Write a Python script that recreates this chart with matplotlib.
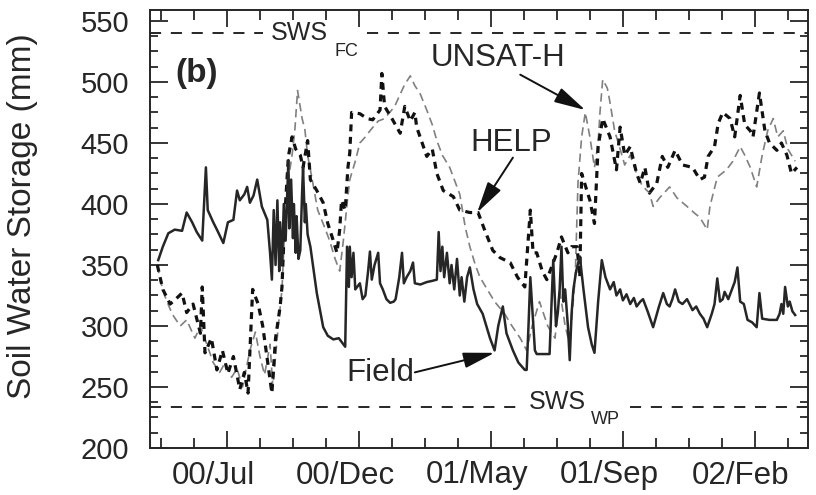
import matplotlib
matplotlib.use("Agg")
import matplotlib.pyplot as plt
from matplotlib.ticker import FixedLocator, MultipleLocator
from matplotlib.transforms import ScaledTranslation

plt.rcParams['font.family'] = ['Liberation Sans', 'DejaVu Sans']
plt.rcParams['lines.scale_dashes'] = False

# Soil water storage (mm) against day of record
field_day = [9, 14, 20, 27, 35, 40, 46, 51, 57, 61, 63, 69, 73, 80, 85, 91, 95, 98,
             103, 106, 109, 113, 117, 122, 128, 131, 133, 135, 137, 139, 141, 142,
             144, 146, 148, 151, 152, 154, 156, 157, 159, 160, 162, 164, 166, 167,
             169, 170, 172, 175, 182, 189, 194, 200, 206, 213, 215, 217, 218, 220,
             222, 224, 229, 232, 235, 238, 240, 242, 245, 249, 251, 254, 258, 262,
             266, 268, 272, 275, 277, 280, 284, 287, 289, 295, 302, 308, 313, 315,
             317, 319, 321, 324, 327, 329, 332, 335, 338, 340, 343, 346, 349, 353,
             357, 363, 367, 371, 376, 380, 385, 389, 396, 402, 409, 411, 413, 415,
             420, 422, 436, 440, 443, 445, 447, 449, 451, 453, 456, 458, 460, 462,
             465, 469, 473, 478, 482, 485, 489, 493, 497, 502, 506, 509, 513, 516,
             520, 524, 528, 531, 535, 538, 543, 549, 555, 560, 564, 567, 570, 573,
             577, 581, 586, 592, 596, 600, 604, 608, 613, 616, 619, 622, 625, 627,
             631, 635, 638, 641, 644, 648, 652, 657, 662, 665, 668, 676, 684, 687,
             689, 691, 693, 696, 698, 701, 704]
field_mm = [354, 365, 376, 379, 378, 393, 385, 377, 370, 430, 395, 385, 379, 368, 385,
            387, 411, 403, 408, 414, 401, 407, 420, 398, 387, 360, 338, 395, 350, 403,
            345, 385, 350, 400, 370, 436, 380, 420, 372, 400, 360, 390, 355, 362, 410,
            430, 385, 400, 375, 365, 327, 299, 292, 289, 290, 283, 365, 332, 365, 340,
            360, 330, 335, 322, 325, 345, 361, 338, 350, 360, 335, 330, 322, 319, 320,
            322, 340, 360, 335, 340, 345, 352, 335, 334, 336, 337, 338, 377, 345, 365,
            340, 360, 335, 350, 330, 355, 325, 340, 320, 340, 348, 330, 318, 310, 300,
            290, 280, 300, 316, 294, 280, 270, 264, 264, 300, 340, 280, 277, 277, 354,
            300, 311, 330, 365, 320, 330, 300, 272, 310, 330, 345, 357, 330, 299, 285,
            278, 320, 354, 340, 330, 336, 325, 330, 321, 326, 318, 323, 316, 320, 322,
            312, 299, 315, 327, 318, 316, 322, 330, 320, 318, 322, 313, 316, 310, 306,
            299, 310, 318, 339, 320, 322, 328, 322, 330, 336, 348, 320, 318, 305, 303,
            299, 327, 306, 305, 305, 310, 318, 310, 332, 316, 320, 312, 309]

help_day = [8, 11, 14, 22, 28, 35, 40, 47, 55, 57, 60, 67, 73, 79, 85, 91, 98, 103,
            107, 112, 118, 123, 131, 133, 137, 142, 144, 147, 151, 155, 159, 164, 167,
            172, 175, 182, 189, 194, 200, 204, 207, 209, 213, 216, 218, 220, 229, 237,
            243, 251, 253, 256, 264, 273, 278, 284, 289, 291, 297, 302, 308, 313, 320,
            331, 338, 349, 358, 365, 374, 382, 393, 401, 409, 415, 418, 422, 428, 433,
            439, 444, 449, 456, 460, 466, 469, 471, 480, 485, 489, 494, 502, 509, 513,
            518, 524, 531, 535, 540, 545, 553, 559, 565, 573, 581, 592, 600, 605, 609,
            616, 620, 625, 633, 638, 644, 649, 655, 658, 665, 671, 676, 684, 689, 695,
            700, 706]
help_mm = [350, 340, 330, 318, 322, 327, 311, 318, 294, 332, 278, 290, 264, 280, 261,
           275, 248, 262, 245, 330, 318, 300, 256, 245, 290, 316, 332, 389, 439, 455,
           445, 440, 430, 452, 420, 411, 401, 384, 370, 360, 379, 403, 395, 430, 442,
           475, 474, 470, 469, 477, 507, 480, 470, 458, 480, 468, 475, 463, 450, 439,
           445, 425, 411, 406, 395, 393, 393, 379, 362, 356, 352, 340, 332, 395, 360,
           360, 345, 338, 350, 360, 373, 360, 365, 365, 340, 425, 403, 384, 447, 470,
           455, 428, 463, 440, 447, 425, 417, 430, 409, 417, 439, 430, 444, 432, 430,
           420, 422, 439, 447, 466, 475, 470, 455, 489, 465, 460, 455, 491, 460, 450,
           444, 450, 440, 425, 430]

unsat_day = [8, 11, 16, 24, 33, 40, 49, 55, 62, 69, 76, 82, 89, 95, 101, 109, 115, 120,
             125, 131, 134, 140, 144, 147, 151, 155, 158, 161, 166, 169, 172, 177, 183,
             191, 196, 202, 207, 211, 215, 218, 224, 229, 235, 240, 249, 256, 267, 273,
             278, 284, 289, 295, 302, 308, 313, 319, 327, 333, 338, 344, 349, 355, 360,
             368, 376, 387, 395, 404, 411, 417, 425, 434, 442, 447, 453, 458, 464, 467,
             471, 475, 480, 485, 489, 491, 494, 499, 502, 507, 513, 518, 524, 531, 537,
             545, 549, 556, 567, 575, 586, 595, 600, 608, 611, 619, 624, 629, 636, 644,
             649, 655, 662, 668, 674, 680, 685, 691, 696, 704]
unsat_mm = [350, 338, 325, 310, 300, 305, 290, 300, 285, 270, 262, 270, 258, 265, 250,
            280, 295, 275, 260, 285, 250, 300, 330, 380, 420, 440, 460, 493, 470, 461,
            440, 420, 395, 380, 370, 355, 345, 370, 400, 420, 435, 450, 455, 460, 468,
            470, 480, 490, 498, 505, 497, 490, 477, 465, 452, 440, 430, 418, 408, 381,
            365, 350, 340, 330, 320, 310, 300, 290, 280, 300, 320, 300, 290, 330, 300,
            285, 340, 417, 455, 475, 455, 430, 450, 475, 502, 495, 483, 460, 445, 432,
            440, 425, 415, 409, 398, 405, 414, 405, 398, 392, 389, 379, 398, 422, 425,
            428, 435, 447, 440, 430, 414, 440, 460, 470, 455, 460, 445, 435]

sws_fc = 540
sws_wp = 234

tick_days = [84, 228, 372, 516, 660]
tick_labels = ['00/Jul', '00/Dec', '01/May', '01/Sep', '02/Feb']

ink = '#262626'
x_lo, x_hi = 0, 718

fig = plt.figure(figsize=(8.16, 4.95), dpi=100)
ax = fig.add_axes([150 / 816, 47 / 495, 658 / 816, 438 / 495])

ax.plot(unsat_day, unsat_mm, color='#808080', lw=1.2, linestyle=(0, (6, 3.5)), zorder=2)
ax.plot(help_day, help_mm, color='#111111', lw=2.3, linestyle=(0, (5, 4)), zorder=3)
ax.plot(field_day, field_mm, color=ink, lw=1.8, zorder=4)

# reference storage levels, broken where their labels sit
ref_style = dict(colors=ink, lw=1.4, linestyles=[(0, (8, 7))], zorder=1)
ax.hlines([sws_fc, sws_fc], [x_lo, 237], [123, x_hi], **ref_style)
ax.hlines([sws_wp, sws_wp], [x_lo, 524], [407, x_hi], **ref_style)

ax.text(163, sws_fc, 'SWS', fontsize=18, color=ink, ha='center', va='center', zorder=5)
ax.text(214, 524.6, 'FC', fontsize=13, color=ink, ha='center', va='center', zorder=5)
ax.text(445, 237.7, 'SWS', fontsize=18, color=ink, ha='center', va='center', zorder=5)
ax.text(497, 223, 'WP', fontsize=13, color=ink, ha='center', va='center', zorder=5)

ax.text(51, 507, '(b)', fontsize=24, fontweight='bold', color=ink,
        ha='center', va='center')

arrow = dict(arrowstyle='-|>,head_length=1.2,head_width=0.3', color='#111111',
             lw=1.4, mutation_scale=16, shrinkA=0, shrinkB=0)
ax.text(380, 520, 'UNSAT-H', fontsize=22.5, color=ink, ha='center', va='center')
ax.annotate('', xy=(475, 477), xytext=(404, 506), arrowprops=arrow)
ax.text(394, 450, 'HELP', fontsize=22.5, color=ink, ha='center', va='center')
ax.annotate('', xy=(357, 393), xytext=(396, 438), arrowprops=arrow)
ax.text(251, 261.5, 'Field', fontsize=22.5, color=ink, ha='center', va='center')
ax.annotate('', xy=(376, 278), xytext=(289, 262), arrowprops=arrow)

ax.set_xlim(x_lo, x_hi)
ax.set_ylim(200, 559)

ax.xaxis.set_major_locator(FixedLocator(tick_days))
ax.xaxis.set_minor_locator(MultipleLocator(36, offset=12))
ax.set_xticklabels(tick_labels)
ax.yaxis.set_major_locator(MultipleLocator(50))
ax.yaxis.set_minor_locator(MultipleLocator(12.5))

ax.tick_params(which='both', direction='in', top=True, right=True,
               color=ink, width=1.3)
ax.tick_params(axis='x', which='major', length=12, labelsize=22.5, pad=9,
               labelcolor=ink)
ax.tick_params(axis='x', which='minor', length=7)
ax.tick_params(axis='y', which='major', length=13, labelsize=21, pad=15,
               labelcolor=ink)
ax.tick_params(axis='y', which='minor', length=6)

shift = ScaledTranslation(-14 / 100, 0, fig.dpi_scale_trans)
for lab in ax.get_xticklabels():
    lab.set_transform(lab.get_transform() + shift)

for sp in ax.spines.values():
    sp.set_linewidth(1.4)
    sp.set_color(ink)

ax.set_ylabel('Soil Water Storage (mm)', fontsize=24, color=ink)
ax.yaxis.set_label_coords(-0.170, 0.53)

fig.savefig('out.png', dpi=100, facecolor='white')
